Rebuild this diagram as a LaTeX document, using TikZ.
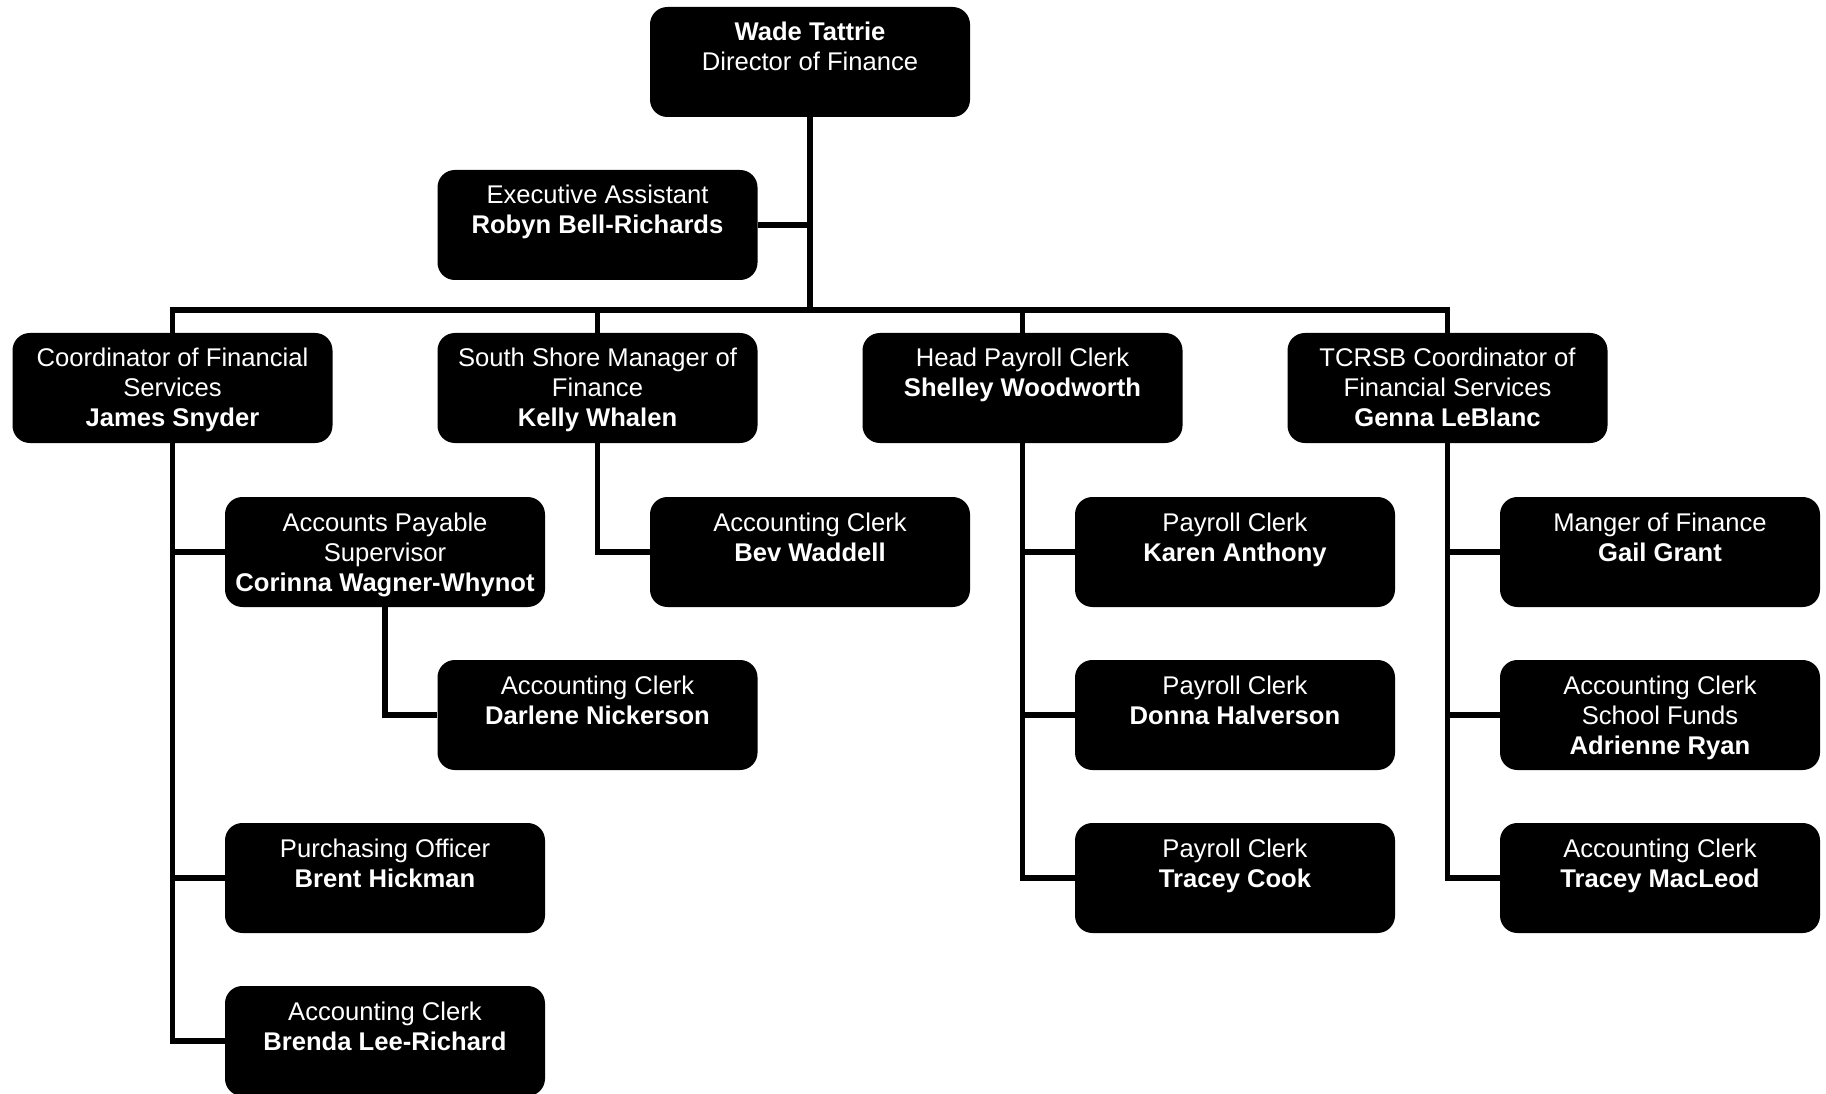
\documentclass[tikz,border=0pt]{standalone}
\usepackage{fontspec}
\setmainfont{Liberation Sans}
\newcommand\bxtext[1]{\parbox[c][82.5pt][t]{240pt}{\centering\fontsize{19.2}{22.5}\selectfont\rule{0pt}{25.5pt}#1}}
\begin{document}
\begin{tikzpicture}[x=0.75pt,y=-0.75pt,
  box/.style={fill=black,text=white,rounded corners=13pt,inner sep=0pt,minimum width=240pt,minimum height=82.5pt},
  link/.style={line width=4.1pt}]
\useasboundingbox (0,0) rectangle (1826,1094);
% boxes
\node[box] (wade) at (810,62) {\bxtext{\textbf{Wade Tattrie}\\Director of Finance}};
\node[box] (exec) at (597.5,225) {\bxtext{Executive Assistant\\\textbf{Robyn Bell-Richards}}};
\node[box] (coord) at (172.5,388) {\bxtext{Coordinator of Financial\\Services\\\textbf{James Snyder}}};
\node[box] (kelly) at (597.5,388) {\bxtext{South Shore Manager of\\Finance\\\textbf{Kelly Whalen}}};
\node[box] (shelley) at (1022.5,388) {\bxtext{Head Payroll Clerk\\\textbf{Shelley Woodworth}}};
\node[box] (genna) at (1447.5,388) {\bxtext{TCRSB Coordinator of\\Financial Services\\\textbf{Genna LeBlanc}}};
\node[box] (ap) at (385,552) {\bxtext{Accounts Payable\\Supervisor\\\textbf{Corinna Wagner-Whynot}}};
\node[box] (darlene) at (597.5,715) {\bxtext{Accounting Clerk\\\textbf{Darlene Nickerson}}};
\node[box] (brent) at (385,878) {\bxtext{Purchasing Officer\\\textbf{Brent Hickman}}};
\node[box] (brenda) at (385,1041) {\bxtext{Accounting Clerk\\\textbf{Brenda Lee-Richard}}};
\node[box] (bev) at (810,552) {\bxtext{Accounting Clerk\\\textbf{Bev Waddell}}};
\node[box] (karen) at (1235,552) {\bxtext{Payroll Clerk\\\textbf{Karen Anthony}}};
\node[box] (donna) at (1235,715) {\bxtext{Payroll Clerk\\\textbf{Donna Halverson}}};
\node[box] (tcook) at (1235,878) {\bxtext{Payroll Clerk\\\textbf{Tracey Cook}}};
\node[box] (gail) at (1660,552) {\bxtext{Manger of Finance\\\textbf{Gail Grant}}};
\node[box] (adrienne) at (1660,715) {\bxtext{Accounting Clerk\\School Funds\\\textbf{Adrienne Ryan}}};
\node[box] (tmac) at (1660,878) {\bxtext{Accounting Clerk\\\textbf{Tracey MacLeod}}};
% bus
\coordinate (busL) at (172.5,310);
\coordinate (busR) at (1447.5,310);
\draw[link] (wade.south) -- (wade.south |- busL);
\draw[link] (wade.south |- exec.east) -- (exec.east);
\draw[link] (coord.north) -- (busL) -- (busR) -- (genna.north);
\draw[link] (kelly.north) -- (kelly.north |- busL);
\draw[link] (shelley.north) -- (shelley.north |- busL);
% branches
\draw[link] (coord.south) |- (ap.west);
\draw[link] (coord.south) |- (brent.west);
\draw[link] (coord.south) |- (brenda.west);
\draw[link] (ap.south) |- (darlene.west);
\draw[link] (kelly.south) |- (bev.west);
\draw[link] (shelley.south) |- (karen.west);
\draw[link] (shelley.south) |- (donna.west);
\draw[link] (shelley.south) |- (tcook.west);
\draw[link] (genna.south) |- (gail.west);
\draw[link] (genna.south) |- (adrienne.west);
\draw[link] (genna.south) |- (tmac.west);
\end{tikzpicture}
\end{document}
